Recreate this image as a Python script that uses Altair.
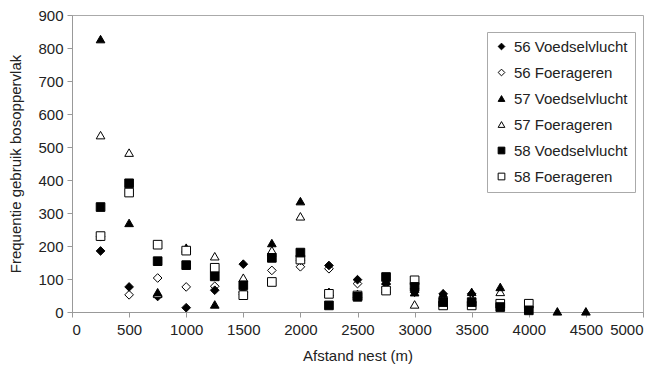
import altair as alt
import pandas as pd

series_names = ["56 Voedselvlucht", "56 Foerageren", "57 Voedselvlucht",
                "57 Foerageren", "58 Voedselvlucht", "58 Foerageren"]

x56v = [250, 500, 750, 1000, 1250, 1500, 1750, 2000, 2250, 2500, 2750, 3000, 3250, 3500]
y56v = [185, 76, 47, 13, 66, 145, 170, 157, 141, 98, 85, 60, 55, 55]

x56f = [250, 500, 750, 1000, 1250, 1500, 1750, 2000, 2250, 2500, 2750, 3000]
y56f = [228, 52, 103, 76, 78, 60, 126, 137, 131, 86, 75, 70]

x57v = [250, 500, 750, 1000, 1250, 1500, 1750, 2000, 2250, 2500, 2750, 3000, 3250, 3500, 3750, 4250, 4500]
y57v = [827, 270, 60, 195, 23, 63, 209, 336, 60, 50, 95, 60, 56, 61, 76, 2, 2]

x57f = [250, 500, 750, 1000, 1250, 1500, 1750, 2000, 2250, 2500, 2750, 3000, 3250, 3500, 3750]
y57f = [536, 483, 55, 190, 169, 104, 187, 290, 61, 55, 70, 23, 40, 40, 61]

x58v = [250, 500, 750, 1000, 1250, 1500, 1750, 2000, 2250, 2500, 2750, 3000, 3250, 3500, 3750, 4000]
y58v = [318, 390, 154, 142, 108, 81, 164, 180, 20, 46, 106, 76, 30, 30, 15, 5]

x58f = [250, 500, 750, 1000, 1250, 1500, 1750, 2000, 2250, 2500, 2750, 3000, 3250, 3500, 3750, 4000]
y58f = [230, 362, 204, 186, 134, 51, 91, 159, 55, 50, 65, 96, 20, 20, 25, 25]

xs = [x56v, x56f, x57v, x57f, x58v, x58f]
ys = [y56v, y56f, y57v, y57f, y58v, y58f]

rows = []
for name, xl, yl in zip(series_names, xs, ys):
    for a, b in zip(xl, yl):
        rows.append({"series": name, "afstand": a, "freq": b})
df = pd.DataFrame(rows)

shapes = ["diamond", "diamond", "triangle-up", "triangle-up", "square", "square"]
fills = ["black", "white", "black", "white", "black", "white"]
strokes = ["black"] * 6

leg = alt.Legend(
    title=None, orient="none", legendX=415, legendY=17,
    labelFont="Liberation Sans", labelFontSize=15, labelColor="#222",
    symbolSize=45, symbolStrokeWidth=1,
    rowPadding=10, padding=7, strokeColor="#aaa", fillColor="white",
    labelOffset=5, labelLimit=200,
)

chart = alt.Chart(df).mark_point(filled=False, opacity=1, strokeWidth=1, size=75).encode(
    x=alt.X("afstand:Q", title="Afstand nest (m)",
            scale=alt.Scale(domain=[0, 5000], nice=False),
            axis=alt.Axis(values=list(range(0, 5001, 500)), grid=False, format="d",
                          labelPadding=5, titlePadding=11)),
    y=alt.Y("freq:Q", title="Frequentie gebruik bosoppervlak",
            scale=alt.Scale(domain=[0, 900], nice=False),
            axis=alt.Axis(values=list(range(0, 901, 100)), grid=False, format="d",
                          labelPadding=4, titlePadding=14)),
    shape=alt.Shape("series:N", scale=alt.Scale(domain=series_names, range=shapes), legend=leg),
    fill=alt.Fill("series:N", scale=alt.Scale(domain=series_names, range=fills), legend=leg),
    stroke=alt.Stroke("series:N", scale=alt.Scale(domain=series_names, range=strokes), legend=leg),
    order=alt.Order("series:N"),
).properties(
    width=571, height=297,
    autosize=alt.AutoSizeParams(type="none"),
    padding={"left": 64, "top": 7, "right": 12, "bottom": 52},
    background="white",
).configure_view(
    stroke="#aaa", strokeWidth=1
).configure_axis(
    domainColor="#999", tickColor="#999", tickSize=5,
    labelFont="Liberation Sans", labelFontSize=15, labelColor="#222",
    titleFont="Liberation Sans", titleFontSize=15, titleColor="#222",
    titleFontWeight="normal",
)

chart.save("out.html", embed_options={"renderer": "svg", "actions": False})
